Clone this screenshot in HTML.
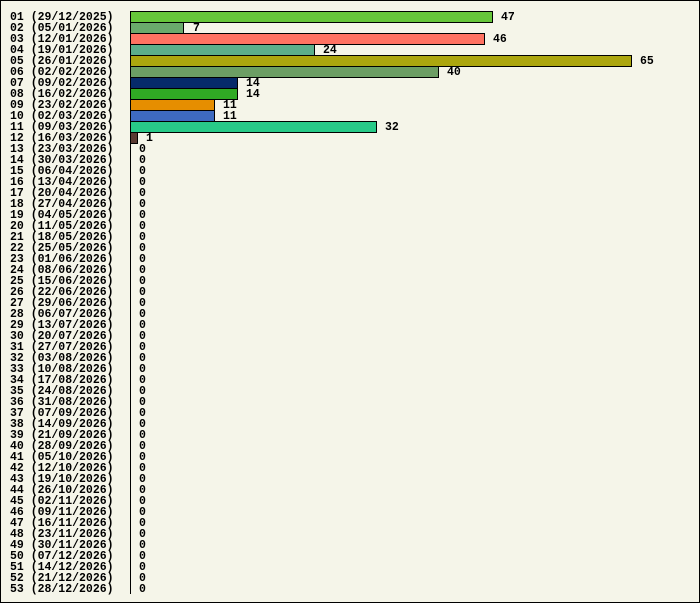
<!DOCTYPE html>
<html><head><meta charset="utf-8"><style>
html,body{margin:0;padding:0;background:#f5f5e9}
svg{display:block}
text{font-family:"Liberation Mono","DejaVu Sans Mono",monospace;font-weight:bold;font-size:11.5px;fill:#000}
</style></head><body>
<svg width="700" height="603" viewBox="0 0 700 603" xmlns="http://www.w3.org/2000/svg">
<rect x="0.5" y="0.5" width="699" height="602" fill="#f5f5e9" stroke="#000"/>
<line x1="130.5" y1="11" x2="130.5" y2="594" stroke="#000"/>
<g stroke="#000" stroke-width="1">
<rect x="130.5" y="11.5" width="362" height="11" fill="#66c63a"/>
<rect x="130.5" y="22.5" width="53" height="11" fill="#6aaa6c"/>
<rect x="130.5" y="33.5" width="354" height="11" fill="#ff7262"/>
<rect x="130.5" y="44.5" width="184" height="11" fill="#5cae8a"/>
<rect x="130.5" y="55.5" width="501" height="11" fill="#aca60e"/>
<rect x="130.5" y="66.5" width="308" height="11" fill="#6c9e64"/>
<rect x="130.5" y="77.5" width="107" height="11" fill="#062a6a"/>
<rect x="130.5" y="88.5" width="107" height="11" fill="#30aa24"/>
<rect x="130.5" y="99.5" width="84" height="11" fill="#e68e00"/>
<rect x="130.5" y="110.5" width="84" height="11" fill="#3e6ac0"/>
<rect x="130.5" y="121.5" width="246" height="11" fill="#28ca88"/>
<rect x="130.5" y="132.5" width="7" height="11" fill="#5a3a32"/>
</g>
<g>
<text x="10" y="20">01 (29/12/2025)</text><text x="501" y="20">47</text>
<text x="10" y="31">02 (05/01/2026)</text><text x="193" y="31">7</text>
<text x="10" y="42">03 (12/01/2026)</text><text x="493" y="42">46</text>
<text x="10" y="53">04 (19/01/2026)</text><text x="323" y="53">24</text>
<text x="10" y="64">05 (26/01/2026)</text><text x="640" y="64">65</text>
<text x="10" y="75">06 (02/02/2026)</text><text x="447" y="75">40</text>
<text x="10" y="86">07 (09/02/2026)</text><text x="246" y="86">14</text>
<text x="10" y="97">08 (16/02/2026)</text><text x="246" y="97">14</text>
<text x="10" y="108">09 (23/02/2026)</text><text x="223" y="108">11</text>
<text x="10" y="119">10 (02/03/2026)</text><text x="223" y="119">11</text>
<text x="10" y="130">11 (09/03/2026)</text><text x="385" y="130">32</text>
<text x="10" y="141">12 (16/03/2026)</text><text x="146" y="141">1</text>
<text x="10" y="152">13 (23/03/2026)</text><text x="139" y="152">0</text>
<text x="10" y="163">14 (30/03/2026)</text><text x="139" y="163">0</text>
<text x="10" y="174">15 (06/04/2026)</text><text x="139" y="174">0</text>
<text x="10" y="185">16 (13/04/2026)</text><text x="139" y="185">0</text>
<text x="10" y="196">17 (20/04/2026)</text><text x="139" y="196">0</text>
<text x="10" y="207">18 (27/04/2026)</text><text x="139" y="207">0</text>
<text x="10" y="218">19 (04/05/2026)</text><text x="139" y="218">0</text>
<text x="10" y="229">20 (11/05/2026)</text><text x="139" y="229">0</text>
<text x="10" y="240">21 (18/05/2026)</text><text x="139" y="240">0</text>
<text x="10" y="251">22 (25/05/2026)</text><text x="139" y="251">0</text>
<text x="10" y="262">23 (01/06/2026)</text><text x="139" y="262">0</text>
<text x="10" y="273">24 (08/06/2026)</text><text x="139" y="273">0</text>
<text x="10" y="284">25 (15/06/2026)</text><text x="139" y="284">0</text>
<text x="10" y="295">26 (22/06/2026)</text><text x="139" y="295">0</text>
<text x="10" y="306">27 (29/06/2026)</text><text x="139" y="306">0</text>
<text x="10" y="317">28 (06/07/2026)</text><text x="139" y="317">0</text>
<text x="10" y="328">29 (13/07/2026)</text><text x="139" y="328">0</text>
<text x="10" y="339">30 (20/07/2026)</text><text x="139" y="339">0</text>
<text x="10" y="350">31 (27/07/2026)</text><text x="139" y="350">0</text>
<text x="10" y="361">32 (03/08/2026)</text><text x="139" y="361">0</text>
<text x="10" y="372">33 (10/08/2026)</text><text x="139" y="372">0</text>
<text x="10" y="383">34 (17/08/2026)</text><text x="139" y="383">0</text>
<text x="10" y="394">35 (24/08/2026)</text><text x="139" y="394">0</text>
<text x="10" y="405">36 (31/08/2026)</text><text x="139" y="405">0</text>
<text x="10" y="416">37 (07/09/2026)</text><text x="139" y="416">0</text>
<text x="10" y="427">38 (14/09/2026)</text><text x="139" y="427">0</text>
<text x="10" y="438">39 (21/09/2026)</text><text x="139" y="438">0</text>
<text x="10" y="449">40 (28/09/2026)</text><text x="139" y="449">0</text>
<text x="10" y="460">41 (05/10/2026)</text><text x="139" y="460">0</text>
<text x="10" y="471">42 (12/10/2026)</text><text x="139" y="471">0</text>
<text x="10" y="482">43 (19/10/2026)</text><text x="139" y="482">0</text>
<text x="10" y="493">44 (26/10/2026)</text><text x="139" y="493">0</text>
<text x="10" y="504">45 (02/11/2026)</text><text x="139" y="504">0</text>
<text x="10" y="515">46 (09/11/2026)</text><text x="139" y="515">0</text>
<text x="10" y="526">47 (16/11/2026)</text><text x="139" y="526">0</text>
<text x="10" y="537">48 (23/11/2026)</text><text x="139" y="537">0</text>
<text x="10" y="548">49 (30/11/2026)</text><text x="139" y="548">0</text>
<text x="10" y="559">50 (07/12/2026)</text><text x="139" y="559">0</text>
<text x="10" y="570">51 (14/12/2026)</text><text x="139" y="570">0</text>
<text x="10" y="581">52 (21/12/2026)</text><text x="139" y="581">0</text>
<text x="10" y="592">53 (28/12/2026)</text><text x="139" y="592">0</text>
</g>
</svg>
</body></html>
